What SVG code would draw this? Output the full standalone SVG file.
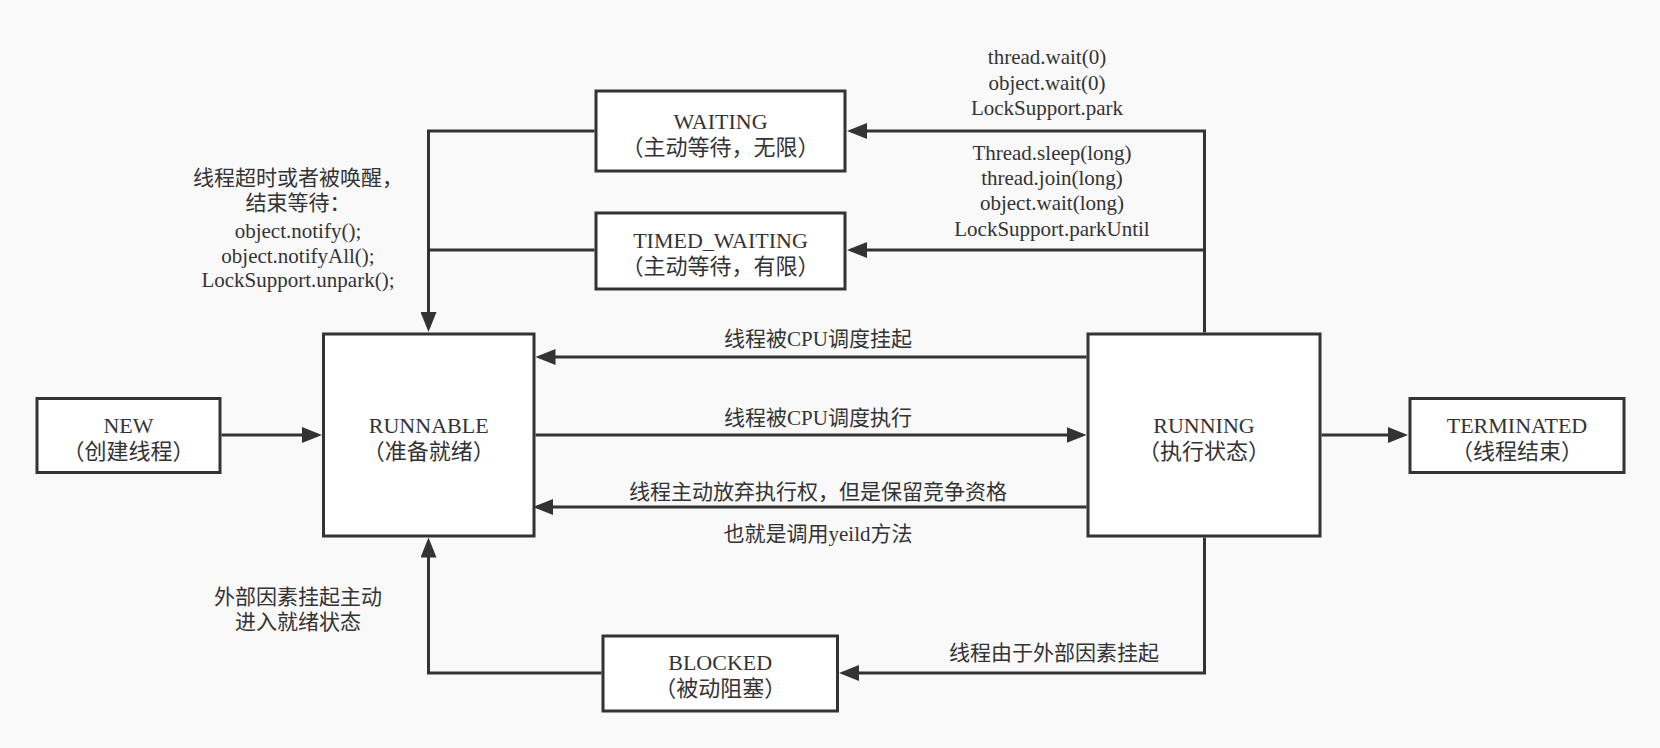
<svg xmlns="http://www.w3.org/2000/svg" width="1660" height="748" viewBox="0 0 1660 748">
<style>
.bg{fill:#f9f9f9}
.box{fill:#ffffff;stroke:#333333;stroke-width:3}
.edge{fill:none;stroke:#333333;stroke-width:3}
text{font-family:"Liberation Serif","Noto Sans CJK SC",serif;fill:#333333;text-anchor:middle}
.n{font-size:22px}
.l{font-size:21px}
</style>
<defs>
<marker id="arr" viewBox="0 0 20 16" refX="16" refY="8" markerWidth="20" markerHeight="16" markerUnits="userSpaceOnUse" orient="auto">
<path d="M0,0 L20,8 L0,16 z" fill="#333333"/>
</marker>
</defs>
<rect class="bg" x="0" y="0" width="1660" height="748"/>

<g id="connectors">
<path class="edge" d="M221.5,435 H318" marker-end="url(#arr)"/>
<path class="edge" d="M535.5,435 H1082.5" marker-end="url(#arr)"/>
<path class="edge" d="M1321.5,435 H1404" marker-end="url(#arr)"/>
<path class="edge" d="M1086.5,357 H539.5" marker-end="url(#arr)"/>
<path class="edge" d="M1086.5,507 H537" marker-end="url(#arr)"/>
<path class="edge" d="M1204.5,537.5 V673 H843" marker-end="url(#arr)"/>
<path class="edge" d="M601.5,673 H428.5 V541.5" marker-end="url(#arr)"/>
<path class="edge" d="M1204.5,332.5 V131 H851" marker-end="url(#arr)"/>
<path class="edge" d="M1204.5,250 H851" marker-end="url(#arr)"/>
<path class="edge" d="M594.5,131 H428.5 V328" marker-end="url(#arr)"/>
<path class="edge" d="M594.5,250 H428.5"/>
</g>

<g id="labels">
<text class="l" x="1047" y="64">thread.wait(0)</text>
<text class="l" x="1047" y="90">object.wait(0)</text>
<text class="l" x="1047" y="115">LockSupport.park</text>
<text class="l" x="1052" y="160">Thread.sleep(long)</text>
<text class="l" x="1052" y="185">thread.join(long)</text>
<text class="l" x="1052" y="210">object.wait(long)</text>
<text class="l" x="1052" y="236">LockSupport.parkUntil</text>
<text class="l" x="298" y="184.5">线程超时或者被唤醒，</text>
<text class="l" x="298" y="209.5">结束等待：</text>
<text class="l" x="298" y="238">object.notify();</text>
<text class="l" x="298" y="262.5">object.notifyAll();</text>
<text class="l" x="298" y="287">LockSupport.unpark();</text>
<text class="l" x="818" y="346">线程被CPU调度挂起</text>
<text class="l" x="818" y="425">线程被CPU调度执行</text>
<text class="l" x="818" y="499">线程主动放弃执行权，但是保留竞争资格</text>
<text class="l" x="818" y="541">也就是调用yeild方法</text>
<text class="l" x="298" y="603.5">外部因素挂起主动</text>
<text class="l" x="298" y="628.5">进入就绪状态</text>
<text class="l" x="1054" y="660">线程由于外部因素挂起</text>
</g>

<g id="node-waiting">
<rect class="box" x="596" y="91" width="249" height="80"/>
<text class="n" x="720.5" y="128.5">WAITING</text>
<text class="n" x="720.5" y="154.5">（主动等待，无限）</text>
</g>
<g id="node-timed-waiting">
<rect class="box" x="596" y="213" width="249" height="76"/>
<text class="n" x="720.5" y="248">TIMED_WAITING</text>
<text class="n" x="720.5" y="274">（主动等待，有限）</text>
</g>
<g id="node-new">
<rect class="box" x="37" y="398.5" width="183" height="74"/>
<text class="n" x="128.5" y="432.5">NEW</text>
<text class="n" x="128.5" y="458.5">（创建线程）</text>
</g>
<g id="node-runnable">
<rect class="box" x="323.5" y="334" width="210.5" height="202"/>
<text class="n" x="428.7" y="432.5">RUNNABLE</text>
<text class="n" x="428.7" y="458.5">（准备就绪）</text>
</g>
<g id="node-running">
<rect class="box" x="1088" y="334" width="232" height="202"/>
<text class="n" x="1204" y="432.5">RUNNING</text>
<text class="n" x="1204" y="458.5">（执行状态）</text>
</g>
<g id="node-terminated">
<rect class="box" x="1410" y="398.5" width="214" height="74"/>
<text class="n" x="1517" y="432.5">TERMINATED</text>
<text class="n" x="1517" y="458.5">（线程结束）</text>
</g>
<g id="node-blocked">
<rect class="box" x="603" y="636" width="234.5" height="75"/>
<text class="n" x="720.2" y="670">BLOCKED</text>
<text class="n" x="720.2" y="696">（被动阻塞）</text>
</g>
</svg>
